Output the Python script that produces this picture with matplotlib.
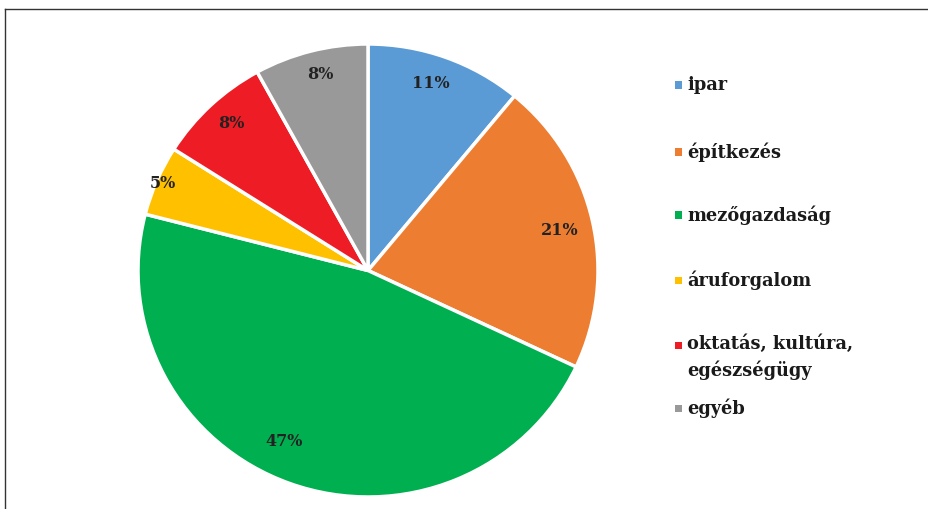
import matplotlib
matplotlib.use("Agg")
import matplotlib.pyplot as plt
from matplotlib.lines import Line2D
from matplotlib.patches import Rectangle
import numpy as np

categories = ["ipar", "építkezés", "mezőgazdaság", "áruforgalom",
              "oktatás, kultúra,\negészségügy", "egyéb"]
values = [11, 21, 47, 5, 8, 8]
colors = ["#5B9BD5", "#ED7D31", "#00B050", "#FFC000", "#EE1C25", "#999999"]
label_radius = [0.87, 0.85, 0.84, 0.97, 0.88, 0.89]
label_angle_shift = [1.5, -0.7, -6.0, 0.0, -0.6, -0.8]

W, H = 929, 509
fig = plt.figure(figsize=(W / 100, H / 100), dpi=100)
fig.patch.set_facecolor("white")

# pie axes
px0, px1, py0, py1 = 138, 598, 44, 497
ax = fig.add_axes([px0 / W, (H - py1) / H, (px1 - px0) / W, (py1 - py0) / H])
wedges, _ = ax.pie(values, colors=colors, startangle=90, counterclock=False,
                   wedgeprops=dict(edgecolor="white", linewidth=2.5))
ax.set_aspect("auto")
ax.set_xlim(-1, 1)
ax.set_ylim(-1, 1)
ax.axis("off")

for w, v, r, s in zip(wedges, values, label_radius, label_angle_shift):
    ang = np.deg2rad((w.theta1 + w.theta2) / 2 + s)
    ax.text(r * np.cos(ang), r * np.sin(ang), f"{v}%", ha="center", va="center",
            fontsize=11.5, family="DejaVu Serif", weight="bold", color="#222222")

# legend (manual)
leg_y = [85, 152, 215, 280, 345, 408]
mx, tx = 678, 687
for lab, col, y in zip(categories, colors, leg_y):
    fig.patches.append(Rectangle(((mx - 3.5) / W, (H - y - 3.5) / H), 7 / W, 7 / H,
                                 transform=fig.transFigure, facecolor=col,
                                 edgecolor="none"))
    if "\n" in lab:
        fig.text(tx / W, (H - y + 11) / H, lab, ha="left", va="top",
                 fontsize=12.8, family="DejaVu Serif", weight="bold",
                 color="#1a1a1a", linespacing=1.5)
    else:
        fig.text(tx / W, (H - y) / H, lab, ha="left", va="center",
                 fontsize=12.8, family="DejaVu Serif", weight="bold",
                 color="#1a1a1a")

# frame lines
fig.add_artist(Line2D([5 / W, 5 / W], [0, (H - 9) / H], color="#333333", lw=1,
                      transform=fig.transFigure))
fig.add_artist(Line2D([5 / W, 1], [(H - 9) / H, (H - 9) / H], color="#333333", lw=1,
                      transform=fig.transFigure))

fig.savefig("out.png", dpi=100, facecolor="white")
